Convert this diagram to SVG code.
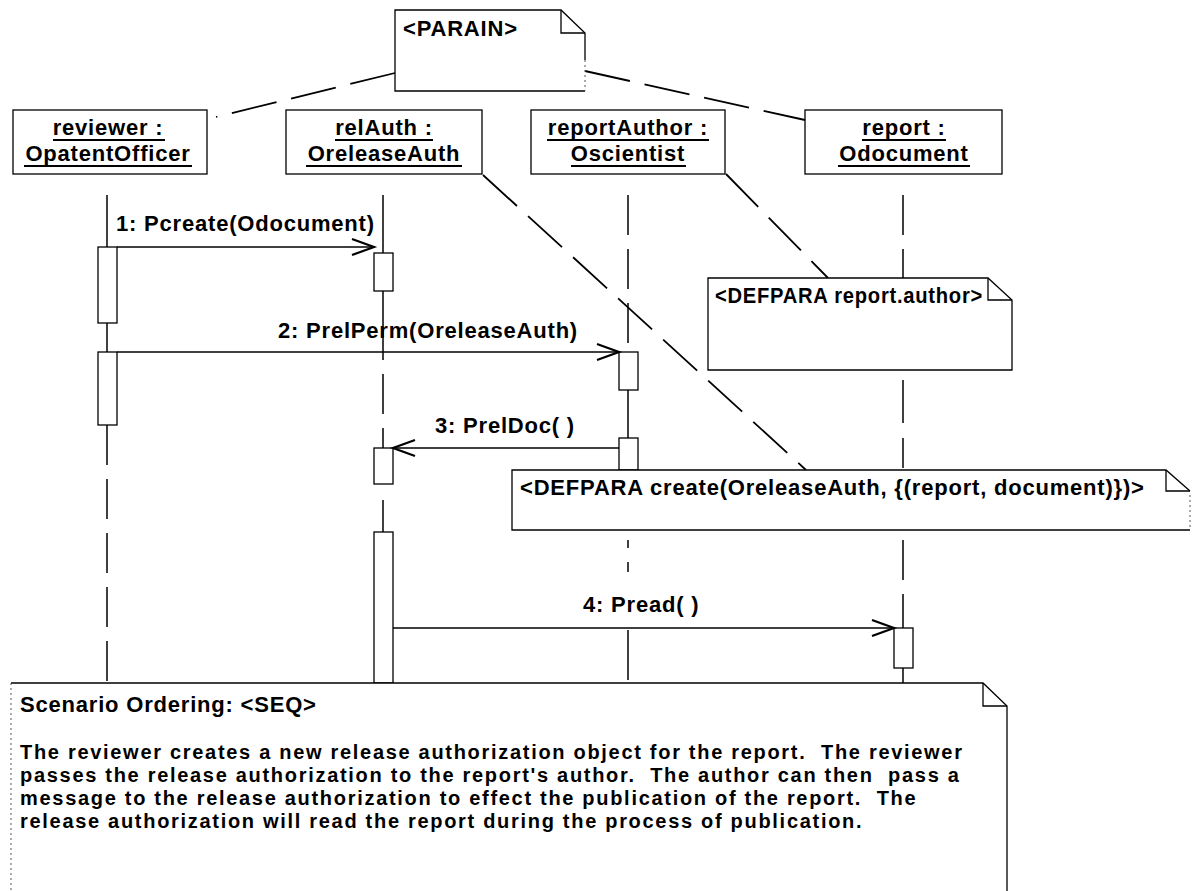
<svg xmlns="http://www.w3.org/2000/svg" width="1195" height="891" viewBox="0 0 1195 891">
  <style>
    .t { font-family: "Liberation Sans", Arial, sans-serif; font-weight: bold; font-size: 22px; letter-spacing: 0.8px; fill: #000; }
    .p { font-family: "Liberation Sans", Arial, sans-serif; font-weight: bold; font-size: 20px; letter-spacing: 1.7px; fill: #000; }
    .box { fill: #fff; stroke: #000; stroke-width: 1.3; }
    .note { fill: #fff; stroke: #000; stroke-width: 1.3; }
    .fill { fill: #fff; stroke: none; }
    .edge { fill: none; stroke: #000; stroke-width: 1.3; }
    .faint { fill: none; stroke: #555; stroke-width: 1; stroke-dasharray: 2 3; }
    .fold { fill: none; stroke: #000; stroke-width: 1.3; }
    .link { fill: none; stroke: #000; stroke-width: 1.8; stroke-dasharray: 46 15; }
    .life { fill: none; stroke: #000; stroke-width: 1.5; }
    .dash { stroke-dasharray: 40 14; }
    .msg { fill: none; stroke: #000; stroke-width: 1.5; }
    .head { fill: none; stroke: #000; stroke-width: 2.2; }
    .ul { stroke: #000; stroke-width: 2.2; }
  </style>
  <rect width="1195" height="891" fill="#fff"/>

  <!-- lifelines -->
  <g id="lifelines">
    <line class="life" x1="107" y1="195" x2="107" y2="352"/>
    <line class="life dash" x1="107" y1="425" x2="107" y2="683"/>
    <line class="life" x1="383" y1="195" x2="383" y2="320"/>
    <line class="life dash" x1="383" y1="320" x2="383" y2="448"/>
    <line class="life" x1="383" y1="500" x2="383" y2="532"/>
    <line class="life dash" x1="628" y1="195" x2="628" y2="352"/>
    <line class="life" x1="628" y1="390" x2="628" y2="438"/>
    <line class="life" x1="628" y1="540" x2="628" y2="548"/>
    <line class="life" x1="628" y1="562" x2="628" y2="572"/>
    <line class="life" x1="628" y1="630" x2="628" y2="680"/>
    <line class="life dash" x1="903" y1="195" x2="903" y2="278"/>
    <line class="life" x1="903" y1="380" x2="903" y2="423"/>
    <line class="life" x1="903" y1="438" x2="903" y2="468"/>
    <line class="life dash" x1="903" y1="540" x2="903" y2="628"/>
    <line class="life" x1="903" y1="668" x2="903" y2="690"/>
  </g>

  <!-- objects -->
  <g id="reviewer">
    <rect class="box" x="13" y="110" width="194" height="64"/>
    <text class="t" x="108" y="135" text-anchor="middle">reviewer :</text>
    <line class="ul" x1="53" y1="140" x2="165" y2="140"/>
    <text class="t" x="108" y="161" text-anchor="middle">OpatentOfficer</text>
    <line class="ul" x1="24" y1="166" x2="192" y2="166"/>
  </g>
  <g id="relAuth">
    <rect class="box" x="286" y="110" width="196" height="64"/>
    <text class="t" x="384" y="135" text-anchor="middle">relAuth :</text>
    <line class="ul" x1="335" y1="140" x2="433" y2="140"/>
    <text class="t" x="384" y="161" text-anchor="middle">OreleaseAuth</text>
    <line class="ul" x1="306" y1="166" x2="462" y2="166"/>
  </g>
  <g id="reportAuthor">
    <rect class="box" x="531" y="110" width="194" height="64"/>
    <text class="t" x="628" y="135" text-anchor="middle">reportAuthor :</text>
    <line class="ul" x1="547" y1="140" x2="709" y2="140"/>
    <text class="t" x="628" y="161" text-anchor="middle">Oscientist</text>
    <line class="ul" x1="571" y1="166" x2="686" y2="166"/>
  </g>
  <g id="report">
    <rect class="box" x="805" y="110" width="197" height="64"/>
    <text class="t" x="904" y="135" text-anchor="middle">report :</text>
    <line class="ul" x1="862" y1="140" x2="946" y2="140"/>
    <text class="t" x="904" y="161" text-anchor="middle">Odocument</text>
    <line class="ul" x1="838" y1="166" x2="970" y2="166"/>
  </g>

  <!-- activations -->
  <g id="activations">
    <rect class="box" x="98" y="247" width="19" height="76"/>
    <rect class="box" x="98" y="352" width="19" height="73"/>
    <rect class="box" x="374" y="253" width="19" height="38"/>
    <rect class="box" x="374" y="448" width="19" height="36"/>
    <rect class="box" x="374" y="532" width="19" height="151"/>
    <rect class="box" x="619" y="352" width="19" height="38"/>
    <rect class="box" x="619" y="438" width="19" height="32"/>
    <rect class="box" x="894" y="628" width="19" height="40"/>
  </g>

  <!-- connectors -->
  <g id="connectors">
    <line class="link" x1="395" y1="73" x2="216" y2="117"/>
    <line class="link" x1="585" y1="71" x2="805" y2="120"/>
    <line class="link" x1="483" y1="175" x2="806" y2="470"/>
    <line class="link" x1="726" y1="174" x2="828" y2="278"/>

    <line class="msg" x1="117" y1="247" x2="374" y2="247"/>
    <polyline class="head" points="352,239 374,247 352,255"/>
    <line class="msg" x1="117" y1="352" x2="619" y2="352"/>
    <polyline class="head" points="597,344 619,352 597,360"/>
    <line class="msg" x1="619" y1="448" x2="393" y2="448"/>
    <polyline class="head" points="415,440 393,448 415,456"/>
    <line class="msg" x1="393" y1="628" x2="894" y2="628"/>
    <polyline class="head" points="872,620 894,628 872,636"/>
  </g>

  <!-- message labels -->
  <g id="labels">
    <text class="t" x="116" y="231">1: Pcreate(Odocument)</text>
    <text class="t" x="278" y="338">2: PrelPerm(OreleaseAuth)</text>
    <text class="t" x="435" y="433">3: PrelDoc( )</text>
    <text class="t" x="583" y="612">4: Pread( )</text>
  </g>

  <!-- notes -->
  <g id="note-parain">
    <path class="fill" d="M395,10 H561 L585,33 V91 H395 Z"/>
    <path class="edge" d="M585,60 V33 L561,10 H395 V91 H585"/>
    <path class="faint" d="M585,60 V91"/>
    <path class="fold" d="M561,10 V33 H585"/>
    <text class="t" x="403" y="36">&lt;PARAIN&gt;</text>
  </g>
  <g id="note-author">
    <path class="note" d="M708,278 H988 L1012,300 V370 H708 Z"/>
    <path class="fold" d="M988,278 V300 H1012"/>
    <text class="t" x="715" y="303" textLength="268" lengthAdjust="spacingAndGlyphs">&lt;DEFPARA report.author&gt;</text>
  </g>
  <g id="note-create">
    <path class="fill" d="M512,470 H1166 L1190,491 V530 H512 Z"/>
    <path class="edge" d="M1190,491 L1166,470 H512 V530 H1190"/>
    <path class="faint" d="M1190,495 V530"/>
    <path class="fold" d="M1166,470 V491 H1190"/>
    <text class="t" x="520" y="495">&lt;DEFPARA create(OreleaseAuth, {(report, document)})&gt;</text>
  </g>
  <g id="note-scenario">
    <path class="fill" d="M11,683 H983 L1007,706 V900 H11 Z"/>
    <path class="edge" d="M11,683 H983 L1007,706 V900"/>
    <path class="faint" d="M11,683 V891"/>
    <path class="fold" d="M983,683 V706 H1007"/>
    <text class="t" x="20" y="712">Scenario Ordering: &lt;SEQ&gt;</text>
    <text class="p" x="20" y="759" xml:space="preserve">The reviewer creates a new release authorization object for the report.  The reviewer</text>
    <text class="p" x="20" y="782" xml:space="preserve">passes the release authorization to the report's author.  The author can then  pass a</text>
    <text class="p" x="20" y="805" xml:space="preserve">message to the release authorization to effect the publication of the report.  The</text>
    <text class="p" x="20" y="828">release authorization will read the report during the process of publication.</text>
  </g>
</svg>
